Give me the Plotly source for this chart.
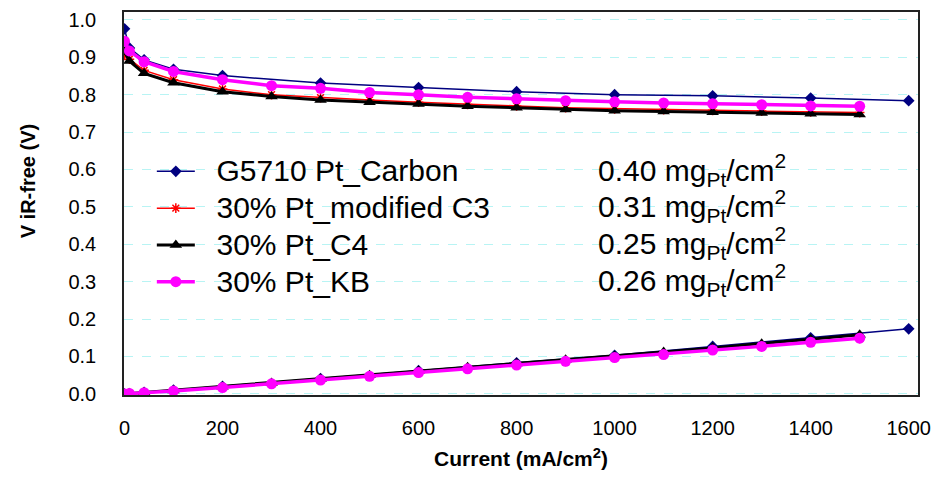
import plotly.graph_objects as go

# ---------------- data ----------------
x_g5710 = [0, 10, 40, 100, 200, 400, 600, 800, 1000, 1200, 1400, 1600]
v_g5710 = [0.976, 0.925, 0.893, 0.868, 0.851, 0.831, 0.819, 0.808, 0.800, 0.797, 0.791, 0.784]
ir_g5710 = [0.000, 0.001, 0.004, 0.010, 0.020, 0.041, 0.062, 0.083, 0.103, 0.127, 0.150, 0.174]

x_30 = [0, 10, 40, 100, 200, 300, 400, 500, 600, 700, 800, 900, 1000, 1100, 1200, 1300, 1400, 1500]
v_c3 = [0.905, 0.895, 0.865, 0.840, 0.815, 0.800, 0.792, 0.786, 0.780, 0.774, 0.770, 0.765, 0.762, 0.760, 0.758, 0.756, 0.754, 0.752]
ir_c3 = [0.000, 0.001, 0.003, 0.008, 0.017, 0.027, 0.037, 0.047, 0.057, 0.067, 0.077, 0.087, 0.097, 0.106, 0.117, 0.127, 0.138, 0.148]
v_c4 = [0.915, 0.890, 0.857, 0.832, 0.808, 0.795, 0.786, 0.780, 0.775, 0.769, 0.765, 0.760, 0.757, 0.755, 0.753, 0.751, 0.749, 0.747]
ir_c4 = [0.000, 0.001, 0.004, 0.009, 0.019, 0.029, 0.040, 0.050, 0.061, 0.071, 0.081, 0.091, 0.101, 0.112, 0.123, 0.134, 0.146, 0.158]
v_kb = [0.943, 0.917, 0.888, 0.862, 0.840, 0.824, 0.817, 0.806, 0.800, 0.793, 0.789, 0.784, 0.781, 0.778, 0.776, 0.773, 0.770, 0.769]
ir_kb = [0.000, 0.001, 0.003, 0.008, 0.017, 0.027, 0.037, 0.047, 0.057, 0.067, 0.077, 0.087, 0.097, 0.105, 0.117, 0.127, 0.138, 0.149]

series_names = ["G5710 Pt_Carbon", "30% Pt_modified C3", "30% Pt_C4", "30% Pt_KB"]
loadings = ["0.40", "0.31", "0.25", "0.26"]

x_ticks = [0, 200, 400, 600, 800, 1000, 1200, 1400, 1600]
y_ticks = [0.0, 0.1, 0.2, 0.3, 0.4, 0.5, 0.6, 0.7, 0.8, 0.9, 1.0]

FONT = "Liberation Sans, Arial, sans-serif"

styles = [
    dict(color="#000080", width=1.5, symbol="diamond", size=9, mline=0),
    dict(color="#FF0000", width=1.5, symbol="asterisk-open", size=8, mline=1.5),
    dict(color="#000000", width=3, symbol="triangle-up", size=11, mline=0),
    dict(color="#FF00FF", width=3.5, symbol="circle", size=11, mline=0),
]
data = [
    (x_g5710, v_g5710, ir_g5710),
    (x_30, v_c3, ir_c3),
    (x_30, v_c4, ir_c4),
    (x_30, v_kb, ir_kb),
]

fig = go.Figure()
for i, (name, st, (xs, v, ir)) in enumerate(zip(series_names, styles, data)):
    for j, ys in enumerate((v, ir)):
        fig.add_trace(go.Scatter(
            x=xs, y=ys, mode="lines+markers",
            name="<span style='font-size:30px'>&nbsp;&nbsp;%s</span>" % name,
            legendgroup="g%d" % i, showlegend=(j == 0),
            line=dict(color=st["color"], width=st["width"]),
            marker=dict(symbol=st["symbol"], size=st["size"], color=st["color"],
                        line=dict(color=st["color"], width=st["mline"])),
        ))

# loadings column next to the legend
row_y = [168, 205, 242, 279]
for lo, py in zip(loadings, row_y):
    fig.add_annotation(
        x=(599 - 124) / 799, y=(395 - py) / 386, xref="paper", yref="paper",
        xanchor="left", yanchor="middle", showarrow=False,
        text="%s mg<sub>Pt</sub>/cm<sup>2</sup>" % lo,
        font=dict(family=FONT, size=30, color="black"),
    )

# y-axis title
fig.add_annotation(
    x=-(124 - 27) / 799, y=(395 - 180) / 386, xref="paper", yref="paper",
    xanchor="center", yanchor="middle", showarrow=False, textangle=-90,
    text="<b>V iR-free (V)</b>", font=dict(family=FONT, size=20, color="black"),
)

fig.update_layout(
    width=940, height=483,
    margin=dict(l=124, r=17, t=9, b=88),
    paper_bgcolor="white", plot_bgcolor="white",
    font=dict(family=FONT, color="black"),
    showlegend=True,
    legend=dict(
        x=(152 - 124) / 799, y=(395 - 146) / 386, xanchor="left", yanchor="top",
        bgcolor="rgba(0,0,0,0)", borderwidth=0,
        font=dict(family=FONT, size=26, color="black"),
        traceorder="grouped", tracegroupgap=0, itemwidth=38,
    ),
    xaxis=dict(
        range=[-1, 1619], tickvals=x_ticks, ticktext=[str(t) for t in x_ticks],
        showgrid=False, zeroline=False, showline=True, mirror=True,
        linecolor="#222222", linewidth=1.5, ticks="",
        tickfont=dict(family=FONT, size=20, color="black"),
        ticklabelstandoff=14,
        title=dict(text="<b>Current (mA/cm<sup>2</sup>)</b>", standoff=14,
                   font=dict(family=FONT, size=21, color="black")),
    ),
    yaxis=dict(
        range=[-0.003, 1.021], tickvals=y_ticks, ticktext=["%.1f" % t for t in y_ticks],
        showgrid=True, gridcolor="#b8f4f4", griddash="dash", gridwidth=1,
        zeroline=False, showline=True, mirror=True,
        linecolor="#222222", linewidth=1.5, ticks="",
        tickfont=dict(family=FONT, size=20, color="black"),
        ticklabelstandoff=22,
    ),
)

fig.write_html("out.html")
